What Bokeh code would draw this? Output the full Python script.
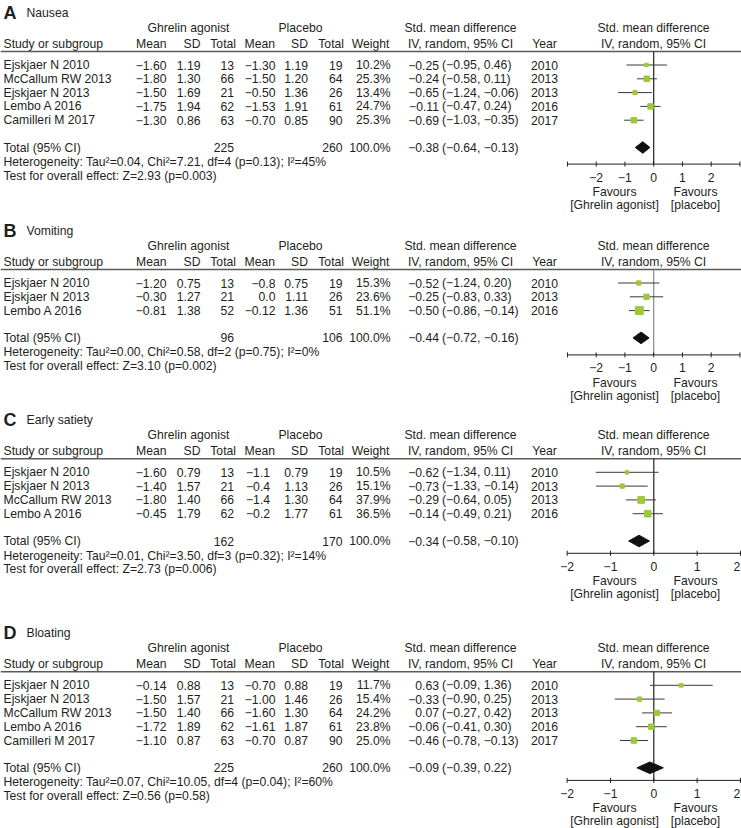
import math
from bokeh.plotting import figure
from bokeh.models import Range1d
from bokeh.core.properties import value
from bokeh.embed import file_html
from bokeh.resources import INLINE

# ---------------- DATA ----------------
# Panel A: Nausea
A_title = "Nausea"
A_studies = ["Ejskjaer N 2010", "McCallum RW 2013", "Ejskjaer N 2013", "Lembo A 2016", "Camilleri M 2017"]
A_g_mean = ["−1.60", "−1.80", "−1.50", "−1.75", "−1.30"]
A_g_sd = ["1.19", "1.30", "1.69", "1.94", "0.86"]
A_g_n = [13, 66, 21, 62, 63]
A_p_mean = ["−1.30", "−1.50", "−0.50", "−1.53", "−0.70"]
A_p_sd = ["1.19", "1.20", "1.36", "1.91", "0.85"]
A_p_n = [19, 64, 26, 61, 90]
A_weight = [10.2, 25.3, 13.4, 24.7, 25.3]
A_smd = [-0.25, -0.24, -0.65, -0.11, -0.69]
A_lo = [-0.95, -0.58, -1.24, -0.47, -1.03]
A_hi = [0.46, 0.11, -0.06, 0.24, -0.35]
A_year = [2010, 2013, 2013, 2016, 2017]
A_total = [225, 260, 100.0, -0.38, -0.64, -0.13]
A_het = "Heterogeneity: Tau²=0.04, Chi²=7.21, df=4 (p=0.13); I²=45%"
A_test = "Test for overall effect: Z=2.93 (p=0.003)"

# Panel B: Vomiting
B_title = "Vomiting"
B_studies = ["Ejskjaer N 2010", "Ejskjaer N 2013", "Lembo A 2016"]
B_g_mean = ["−1.20", "−0.30", "−0.81"]
B_g_sd = ["0.75", "1.27", "1.38"]
B_g_n = [13, 21, 52]
B_p_mean = ["−0.8", "0.0", "−0.12"]
B_p_sd = ["0.75", "1.11", "1.36"]
B_p_n = [19, 26, 51]
B_weight = [15.3, 23.6, 51.1]
B_smd = [-0.52, -0.25, -0.50]
B_lo = [-1.24, -0.83, -0.86]
B_hi = [0.20, 0.33, -0.14]
B_year = [2010, 2013, 2016]
B_total = [96, 106, 100.0, -0.44, -0.72, -0.16]
B_het = "Heterogeneity: Tau²=0.00, Chi²=0.58, df=2 (p=0.75); I²=0%"
B_test = "Test for overall effect: Z=3.10 (p=0.002)"

# Panel C: Early satiety
C_title = "Early satiety"
C_studies = ["Ejskjaer N 2010", "Ejskjaer N 2013", "McCallum RW 2013", "Lembo A 2016"]
C_g_mean = ["−1.60", "−1.40", "−1.80", "−0.45"]
C_g_sd = ["0.79", "1.57", "1.40", "1.79"]
C_g_n = [13, 21, 66, 62]
C_p_mean = ["−1.1", "−0.4", "−1.4", "−0.2"]
C_p_sd = ["0.79", "1.13", "1.30", "1.77"]
C_p_n = [19, 26, 64, 61]
C_weight = [10.5, 15.1, 37.9, 36.5]
C_smd = [-0.62, -0.73, -0.29, -0.14]
C_lo = [-1.34, -1.33, -0.64, -0.49]
C_hi = [0.11, -0.14, 0.05, 0.21]
C_year = [2010, 2013, 2013, 2016]
C_total = [162, 170, 100.0, -0.34, -0.58, -0.10]
C_het = "Heterogeneity: Tau²=0.01, Chi²=3.50, df=3 (p=0.32); I²=14%"
C_test = "Test for overall effect: Z=2.73 (p=0.006)"

# Panel D: Bloating
D_title = "Bloating"
D_studies = ["Ejskjaer N 2010", "Ejskjaer N 2013", "McCallum RW 2013", "Lembo A 2016", "Camilleri M 2017"]
D_g_mean = ["−0.14", "−1.50", "−1.50", "−1.72", "−1.10"]
D_g_sd = ["0.88", "1.57", "1.40", "1.89", "0.87"]
D_g_n = [13, 21, 66, 62, 63]
D_p_mean = ["−0.70", "−1.00", "−1.60", "−1.61", "−0.70"]
D_p_sd = ["0.88", "1.46", "1.30", "1.87", "0.87"]
D_p_n = [19, 26, 64, 61, 90]
D_weight = [11.7, 15.4, 24.2, 23.8, 25.0]
D_smd = [0.63, -0.33, 0.07, -0.06, -0.46]
D_lo = [-0.09, -0.90, -0.27, -0.41, -0.78]
D_hi = [1.36, 0.25, 0.42, 0.30, -0.13]
D_year = [2010, 2013, 2013, 2016, 2017]
D_total = [225, 260, 100.0, -0.09, -0.39, 0.22]
D_het = "Heterogeneity: Tau²=0.07, Chi²=10.05, df=4 (p=0.04); I²=60%"
D_test = "Test for overall effect: Z=0.56 (p=0.58)"

AB_ticks = [-3, -2, -1, 0, 1, 2, 3]
AB_tick_labels = ["", "−2", "−1", "0", "1", "2", ""]
CD_ticks = [-2, -1, 0, 1, 2]
CD_tick_labels = ["−2", "−1", "0", "1", "2"]

group_headers = ["Ghrelin agonist", "Placebo", "Std. mean difference", "Std. mean difference"]
col_headers = ["Study or subgroup", "Mean", "SD", "Total", "Mean", "SD", "Total", "Weight",
               "IV, random, 95% CI", "Year", "IV, random, 95% CI"]
total_label = "Total (95% CI)"
favours_left = ["Favours", "[Ghrelin agonist]"]
favours_right = ["Favours", "[placebo]"]

# ---------------- STYLE / LAYOUT ----------------
FONT = "Liberation Sans"
FS = "12.2px"
INK = "#231f20"
GREEN = "#9dc83a"
W, H = 741, 828

p = figure(width=W, height=H, x_range=Range1d(0, W), y_range=Range1d(H, 0),
           output_backend="svg", toolbar_location=None, min_border=0)
p.axis.visible = False
p.grid.visible = False
p.outline_line_color = None
p.background_fill_color = "white"

# forest scales: pixel of zero and pixels per unit
SCALES = {"ab": (653.2, 28.75), "cd": (653.3, 43.33)}
p.extra_x_ranges = {k: Range1d(-z / u, (W - z) / u) for k, (z, u) in SCALES.items()}


def txt(xs, ys, texts, align="left", size=FS, style="normal", rng=None, color=INK):
    kw = dict(x=xs, y=ys, text=texts, text_font=value(FONT), text_font_size=size,
              text_align=align, text_baseline="middle", text_color=color,
              text_font_style=style)
    if rng:
        kw["x_range_name"] = rng
    p.text(**kw)


def f2(v):
    return f"{v:.2f}".replace("-", "−")


panels = [
    ("A", A_title, A_studies, A_g_mean, A_g_sd, A_g_n, A_p_mean, A_p_sd, A_p_n, A_weight,
     A_smd, A_lo, A_hi, A_year, A_total, A_het, A_test, AB_ticks, AB_tick_labels),
    ("B", B_title, B_studies, B_g_mean, B_g_sd, B_g_n, B_p_mean, B_p_sd, B_p_n, B_weight,
     B_smd, B_lo, B_hi, B_year, B_total, B_het, B_test, AB_ticks, AB_tick_labels),
    ("C", C_title, C_studies, C_g_mean, C_g_sd, C_g_n, C_p_mean, C_p_sd, C_p_n, C_weight,
     C_smd, C_lo, C_hi, C_year, C_total, C_het, C_test, CD_ticks, CD_tick_labels),
    ("D", D_title, D_studies, D_g_mean, D_g_sd, D_g_n, D_p_mean, D_p_sd, D_p_n, D_weight,
     D_smd, D_lo, D_hi, D_year, D_total, D_het, D_test, CD_ticks, CD_tick_labels),
]

# per-panel layout: base y (group header row), axis offset below total, range, placebo-mean align, zero-line colour
layout = [
    dict(base=27.0, axis_off=16.6, rng="ab", pm="right", zc=INK),
    dict(base=245.0, axis_off=17.0, rng="ab", pm="right", zc="#8a8a8a"),
    dict(base=434.3, axis_off=12.3, rng="cd", pm="left", zc=INK),
    dict(base=647.3, axis_off=12.6, rng="cd", pm="right", zc=INK),
]

ROW = 13.8
for pan, lay in zip(panels, layout):
    (letter, title, studies, gm, gsd, gn, pm, psd, pn, wt, smd, lo, hi, yr, tot,
     het, test, ticks, tlabels) = pan
    b = lay["base"]
    rng = lay["rng"]
    z0, unit = SCALES[rng]

    # titles
    txt([3], [b - 14.5], [letter], size="18px", style="bold")
    txt([26], [b - 14.5], [title])

    # group headers
    txt([188, 300, 460, 653], [b] * 4, group_headers, align="center")

    # column headers
    yh = b + 16
    txt([3], [yh], [col_headers[0]])
    txt([166, 200, 235.5, 274.5, 307.5, 343.5, 389],
        [yh] * 7, col_headers[1:8], align="right")
    txt([460, 544, 653], [yh] * 3, col_headers[8:], align="center")

    # header rule
    yl = b + 24
    p.segment(x0=[0], y0=[yl], x1=[W], y1=[yl], line_color="#5a5a5a", line_width=1.4)

    n = len(studies)
    ys = [b + 37.5 + i * ROW for i in range(n)]

    txt([3] * n, ys, studies)
    txt([166] * n, ys, gm, align="right")
    txt([200] * n, ys, gsd, align="right")
    txt([233.5] * n, ys, [str(v) for v in gn], align="right")
    if lay["pm"] == "right":
        txt([275] * n, ys, pm, align="right")
    else:
        txt([245.5] * n, ys, pm, align="left")
    txt([307.5] * n, ys, psd, align="right")
    txt([342] * n, ys, [str(v) for v in pn], align="right")
    txt([390] * n, ys, [f"{w:.1f}%" for w in wt], align="right")
    txt([438.5] * n, ys, [f2(v) for v in smd], align="right")
    txt([441.5] * n, ys, [f"({f2(l)}, {f2(h)})" for l, h in zip(lo, hi)])
    txt([544] * n, ys, [str(y) for y in yr], align="center")

    # total row
    yt = ys[-1] + 27.3
    g_tot, p_tot, w_tot, est, tlo, thi = tot
    txt([3], [yt], [total_label])
    txt([233.5, 342, 390], [yt] * 3, [str(g_tot), str(p_tot), f"{w_tot:.1f}%"], align="right")
    txt([438.5], [yt], [f2(est)], align="right")
    txt([441.5], [yt], [f"({f2(tlo)}, {f2(thi)})"])
    yhet = yt + 14.5
    txt([3], [yhet], [het])
    txt([3], [yhet + 13.7], [test])

    # forest plot
    ya = yt + lay["axis_off"]
    p.segment(x0=[0], y0=[yl], x1=[0], y1=[ya], x_range_name=rng,
              line_color=lay["zc"], line_width=1.2)
    p.segment(x0=lo, y0=ys, x1=hi, y1=ys, x_range_name=rng, line_color="#3a3a3a", line_width=1)
    p.scatter(x=smd, y=ys, marker="square", size=[1.1 * math.sqrt(w) for w in wt],
              x_range_name=rng, fill_color=GREEN, line_color=GREEN)
    p.patch(x=[tlo, est, thi, est], y=[yt, yt - 5.8, yt, yt + 5.8], x_range_name=rng,
            fill_color="#111111", line_color="#111111")

    # axis
    p.segment(x0=[min(ticks)], y0=[ya], x1=[max(ticks)], y1=[ya], x_range_name=rng,
              line_color=INK, line_width=1)
    p.segment(x0=ticks, y0=[ya - 2.5] * len(ticks), x1=ticks, y1=[ya + 2.5] * len(ticks),
              x_range_name=rng, line_color=INK, line_width=1)
    # keep the outermost label inside the page
    xmax_label = (W - 4.5 - z0) / unit
    label_x = [min(t, xmax_label) for t in ticks]
    txt(label_x, [ya + 13] * len(ticks), tlabels, align="center", rng=rng)
    txt([614, 695], [ya + 28] * 2, [favours_left[0], favours_right[0]], align="center")
    txt([614, 695], [ya + 41] * 2, [favours_left[1], favours_right[1]], align="center")

open("out.html", "w", encoding="utf-8").write(file_html(p, INLINE))
